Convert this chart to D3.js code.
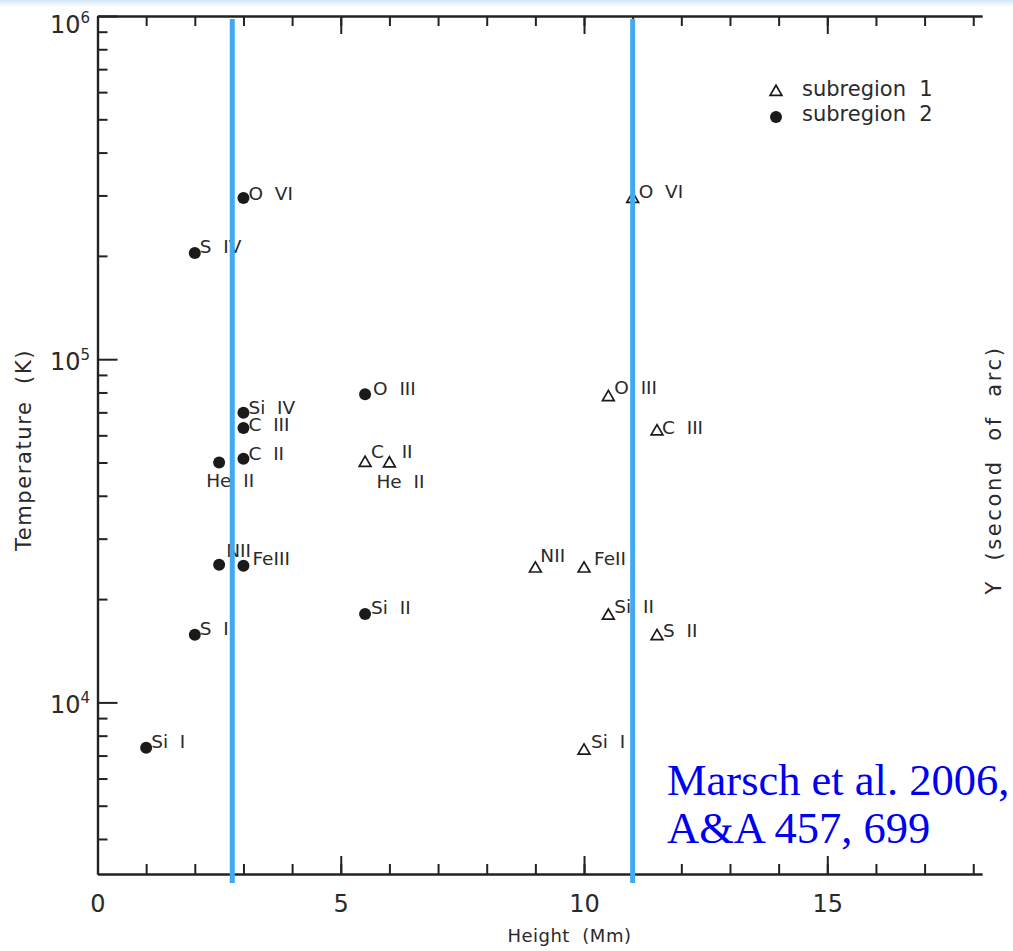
<!DOCTYPE html>
<html><head><meta charset="utf-8">
<script src="https://cdn.jsdelivr.net/npm/d3@7"></script>
<style>
html,body{margin:0;padding:0;background:#fff;}
svg{display:block;}
text{font-family:"DejaVu Sans",sans-serif;fill:#2a2a2a;white-space:pre;}
</style></head><body>
<svg id="chart" width="1013" height="951"></svg>
<script>
// ---------- data ----------
const sub2Labels = ["O  VI","S  IV","O  III","Si  IV","C  III","C  II","He  II","NII","FeIII","Si  II","S  I","Si  I"];
const sub2Height = [3, 2, 5.5, 3, 3, 3, 2.5, 2.5, 3, 5.5, 2, 1];
const sub2Temp   = [2.95e5, 2.04e5, 7.9e4, 6.98e4, 6.3e4, 5.13e4, 5.0e4, 2.52e4, 2.5e4, 1.81e4, 1.575e4, 7.38e3];

const sub1Labels = ["O  VI","O  III","C  III","C   II","He  II","NII","FeII","Si  II","S  II","Si  I"];
const sub1Height = [11, 10.5, 11.5, 5.5, 6, 9, 10, 10.5, 11.5, 10];
const sub1Temp   = [2.95e5, 7.8e4, 6.2e4, 5.02e4, 5.0e4, 2.47e4, 2.47e4, 1.8e4, 1.57e4, 7.28e3];

const xMajorTicks = [0, 5, 10, 15];
const xTickLabels = ["0", "5", "10", "15"];
const xMinorTicks = [0,1,2,3,4,5,6,7,8,9,10,11,12,13,14,15,16,17,18];
const yMajorTicks = [1e4, 1e5, 1e6];
const yTickExponents = ["4", "5", "6"];
const markerHeights = [2.77, 11.0];
const legendLabels = ["subregion  1", "subregion  2"];
const citationLines = ["Marsch et al. 2006,", "A&A 457, 699"];
const xTitle = "Height  (Mm)";
const yTitle = "Temperature  (K)";
const rightTitle = "Y  (second  of  arc)";

// ---------- layout (label offsets in px, relative to symbol) ----------
const sub2LabelOffsets = [[5,2],[5,0],[8,1],[5,1],[5,3],[5,1],[-13,24],[7,-8],[9,-1],[6,0],[5,0],[5,0]];
const sub1LabelOffsets = [[6,0],[6,-2],[5,4],[6,-4],[-13,25],[5,-6],[10,-3],[6,-2],[6,2],[7,-2]];

const svg = d3.select("#chart");
const L = 97.5, R = 982, T = 16, B = 874;

const x = d3.scaleLinear().domain([0, 18.18]).range([L, R]);
const y = d3.scaleLog().domain([Math.pow(10, 3.5), 1e6]).range([B, T]);

// top tint band
const grad = svg.append("defs").append("linearGradient").attr("id","band").attr("x1",0).attr("x2",0).attr("y1",0).attr("y2",1);
grad.append("stop").attr("offset","0%").attr("stop-color","#d6e6f6");
grad.append("stop").attr("offset","100%").attr("stop-color","#ffffff");
svg.append("rect").attr("x",0).attr("y",0).attr("width",1013).attr("height",7).attr("fill","url(#band)");

function styleAxis(g){
  g.selectAll("path.domain").attr("stroke","#222").attr("stroke-width",2.2);
  g.selectAll(".tick line").attr("stroke","#222").attr("stroke-width",2);
}

// bottom axis
const bMinor = svg.append("g").attr("transform",`translate(0,${B})`)
  .call(d3.axisBottom(x).tickValues(xMinorTicks).tickSizeInner(-10).tickSizeOuter(0).tickFormat(""));
styleAxis(bMinor);
const bMajor = svg.append("g").attr("transform",`translate(0,${B})`)
  .call(d3.axisBottom(x).tickValues(xMajorTicks).tickSizeInner(-18).tickSizeOuter(0).tickPadding(21)
    .tickFormat((d,i)=>xTickLabels[i]));
styleAxis(bMajor);
bMajor.selectAll("text").style("font-size","24px").style("font-family","'DejaVu Sans',sans-serif").attr("fill","#2a2a2a");

// top axis
const tMinor = svg.append("g").attr("transform",`translate(0,${T})`)
  .call(d3.axisTop(x).tickValues(xMinorTicks).tickSizeInner(-10).tickSizeOuter(0).tickFormat(""));
styleAxis(tMinor);
const tMajor = svg.append("g").attr("transform",`translate(0,${T})`)
  .call(d3.axisTop(x).tickValues(xMajorTicks).tickSizeInner(-18).tickSizeOuter(0).tickFormat(""));
styleAxis(tMajor);

// left axis
const yMinorTicks = y.ticks().filter(v => yMajorTicks.indexOf(v) < 0);
const lMinor = svg.append("g").attr("transform",`translate(${L},0)`)
  .call(d3.axisLeft(y).tickValues(yMinorTicks).tickSizeInner(-10).tickSizeOuter(0).tickFormat(""));
styleAxis(lMinor);
const lMajor = svg.append("g").attr("transform",`translate(${L},0)`)
  .call(d3.axisLeft(y).tickValues(yMajorTicks).tickSizeInner(-20).tickSizeOuter(0).tickFormat(""));
styleAxis(lMajor);

yMajorTicks.forEach((v,i)=>{
  const t = svg.append("text").attr("x", 90).attr("y", Math.max(y(v)+11, 33))
    .attr("text-anchor","end").style("font-size","24px");
  t.append("tspan").text("10");
  t.append("tspan").attr("dy",-10).style("font-size","15px").text(yTickExponents[i]);
});

// axis titles
svg.append("text").attr("x", x(9.7)).attr("y", 942).attr("text-anchor","middle")
  .style("font-size","18px").style("letter-spacing","0.5px").text(xTitle);
svg.append("text").attr("transform","translate(31,450) rotate(-90)").attr("text-anchor","middle")
  .style("font-size","21px").style("letter-spacing","1.6px").text(yTitle);
svg.append("text").attr("transform","translate(1001,470) rotate(-90)").attr("text-anchor","middle")
  .style("font-size","21px").style("letter-spacing","2.6px").text(rightTitle);

// symbols
const triPath = d3.symbol().type(d3.symbolTriangle).size(60);
const ink = "#1a1a1a";

const sub1 = sub1Labels.map((lab,i)=>({lab, h:sub1Height[i], t:sub1Temp[i], o:sub1LabelOffsets[i]}));
const sub2 = sub2Labels.map((lab,i)=>({lab, h:sub2Height[i], t:sub2Temp[i], o:sub2LabelOffsets[i]}));

svg.append("g").selectAll("circle").data(sub2).join("circle")
  .attr("cx", d=>x(d.h)).attr("cy", d=>y(d.t)).attr("r", 6).attr("fill", ink);
svg.append("g").selectAll("path").data(sub1).join("path")
  .attr("d", triPath).attr("transform", d=>`translate(${x(d.h)},${y(d.t)+1})`)
  .attr("fill","none").attr("stroke", ink).attr("stroke-width", 1.7);

svg.append("g").selectAll("text").data(sub2).join("text")
  .attr("x", d=>x(d.h)+d.o[0]).attr("y", d=>y(d.t)+d.o[1])
  .style("font-size","18.5px").text(d=>d.lab);
svg.append("g").selectAll("text").data(sub1).join("text")
  .attr("x", d=>x(d.h)+d.o[0]).attr("y", d=>y(d.t)+d.o[1])
  .style("font-size","18.5px").text(d=>d.lab);

// legend
const lg = svg.append("g");
lg.append("path").attr("d", triPath).attr("transform","translate(776,92)")
  .attr("fill","none").attr("stroke",ink).attr("stroke-width",1.7);
lg.append("circle").attr("cx",776).attr("cy",117).attr("r",6).attr("fill",ink);
legendLabels.forEach((s,i)=>{
  lg.append("text").attr("x",802).attr("y",96+i*25).style("font-size","21px").text(s);
});

// vertical marker lines
svg.append("g").selectAll("line").data(markerHeights).join("line")
  .attr("x1", d=>x(d)).attr("x2", d=>x(d)).attr("y1", 19).attr("y2", 883)
  .attr("stroke","#40a9f2").attr("stroke-width",5);

// citation
citationLines.forEach((s,i)=>{
  svg.append("text").attr("x",667).attr("y",795+i*48)
    .style("font-family","'Liberation Serif','Times New Roman',serif").style("font-size","44.5px")
    .style("fill","#0000f0").text(s);
});
</script>
</body></html>
